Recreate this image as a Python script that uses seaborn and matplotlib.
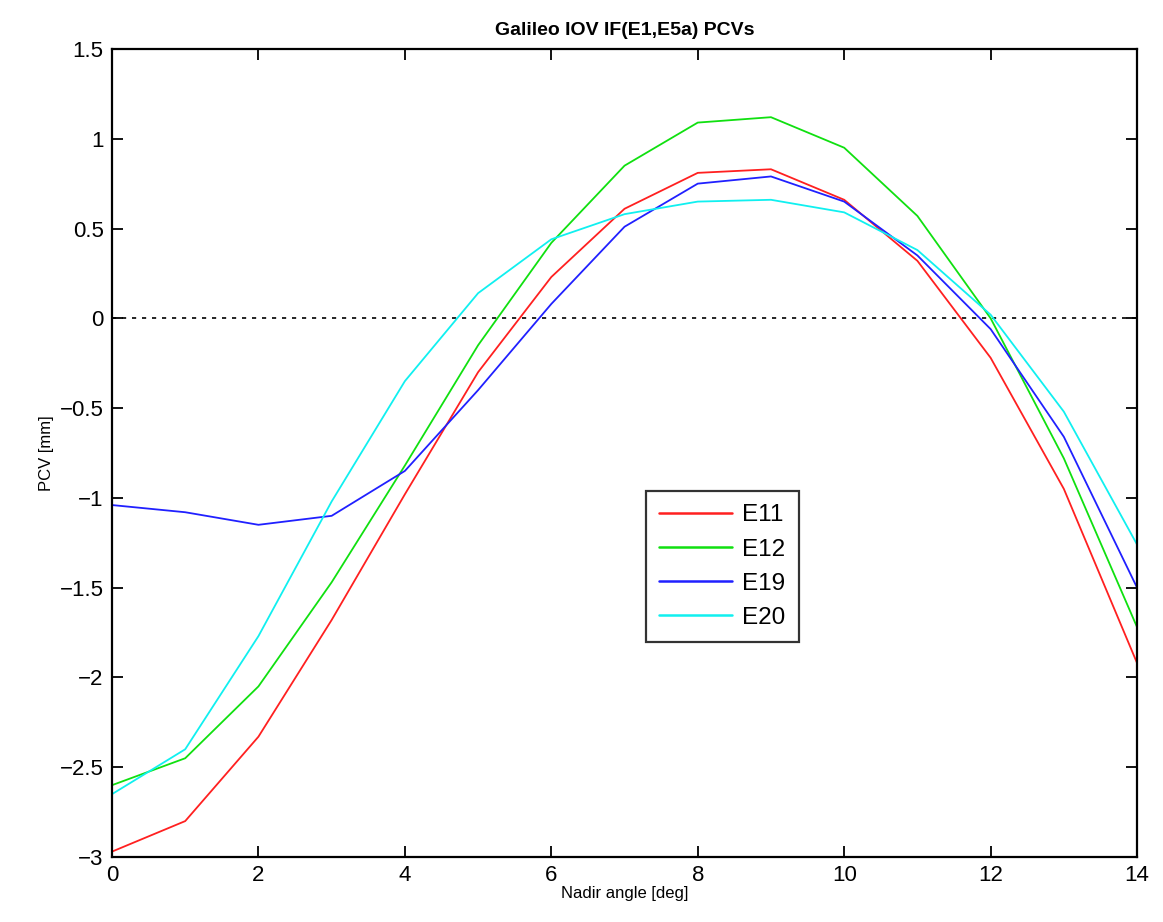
import numpy as np
import pandas as pd
import matplotlib
matplotlib.use("Agg")
import matplotlib.pyplot as plt
import seaborn as sns

nadir = list(range(15))
e11 = [-2.97, -2.80, -2.33, -1.68, -0.98, -0.30, 0.23, 0.61, 0.81, 0.83, 0.66, 0.32, -0.22, -0.95, -1.92]
e12 = [-2.60, -2.45, -2.05, -1.47, -0.82, -0.15, 0.42, 0.85, 1.09, 1.12, 0.95, 0.57, 0.00, -0.78, -1.72]
e19 = [-1.04, -1.08, -1.15, -1.10, -0.85, -0.40, 0.08, 0.51, 0.75, 0.79, 0.65, 0.35, -0.06, -0.66, -1.50]
e20 = [-2.65, -2.40, -1.77, -1.02, -0.35, 0.14, 0.44, 0.58, 0.65, 0.66, 0.59, 0.38, 0.02, -0.52, -1.26]
series_names = ["E11", "E12", "E19", "E20"]
colors = {"E11": "#ff2020", "E12": "#10e010", "E19": "#2020ff", "E20": "#10f0f0"}

frames = []
for name, vals in zip(series_names, [e11, e12, e19, e20]):
    frames.append(pd.DataFrame({"nadir": nadir, "pcv": vals, "sat": name}))
df = pd.concat(frames, ignore_index=True)

sns.set_theme(style="white")
plt.rcParams["font.family"] = ["Liberation Sans", "DejaVu Sans"]
plt.rcParams["text.color"] = "black"
plt.rcParams["axes.labelcolor"] = "black"

fig = plt.figure(figsize=(11.63, 9.22), dpi=100)
ax = fig.add_axes([0.0963, 0.0705, 0.8814, 0.8764])

sns.lineplot(data=df, x="nadir", y="pcv", hue="sat", palette=colors,
             hue_order=series_names, ax=ax, linewidth=1.3, legend=True)
ax.axhline(0, color="black", linestyle=(0, (2.5, 3.5)), linewidth=1.2, zorder=0)

ax.set_xlim(0, 14)
ax.set_ylim(-3, 1.5)
ax.set_xticks(np.arange(0, 15, 2))
ax.set_yticks(np.arange(-3, 1.51, 0.5))
ax.set_yticklabels(["\u22123", "\u22122.5", "\u22122", "\u22121.5", "\u22121", "\u22120.5", "0", "0.5", "1", "1.5"])
ax.tick_params(direction="in", length=8, width=1.3, top=True, right=True,
               bottom=True, left=True, labelsize=16, colors="black", pad=6)
for s in ax.spines.values():
    s.set_color("black")
    s.set_linewidth(1.6)

ax.set_xlabel("Nadir angle [deg]", fontsize=12, labelpad=0, color="black")
ax.set_ylabel("PCV [mm]", fontsize=12, labelpad=4, color="black")
ax.set_title("Galileo IOV IF(E1,E5a) PCVs", fontsize=14, fontweight="bold", pad=10, color="black")

leg = ax.legend(loc="upper left", bbox_to_anchor=(0.521, 0.453), fontsize=17.5,
                frameon=True, fancybox=False, edgecolor="black", handlelength=3.0,
                borderpad=0.55, labelspacing=0.5, handletextpad=0.4, borderaxespad=0)
leg.get_frame().set_linewidth(1.6)
for t in leg.get_texts():
    t.set_color("black")
for h in leg.get_lines():
    h.set_linewidth(1.8)

fig.savefig("out.png", dpi=100)
